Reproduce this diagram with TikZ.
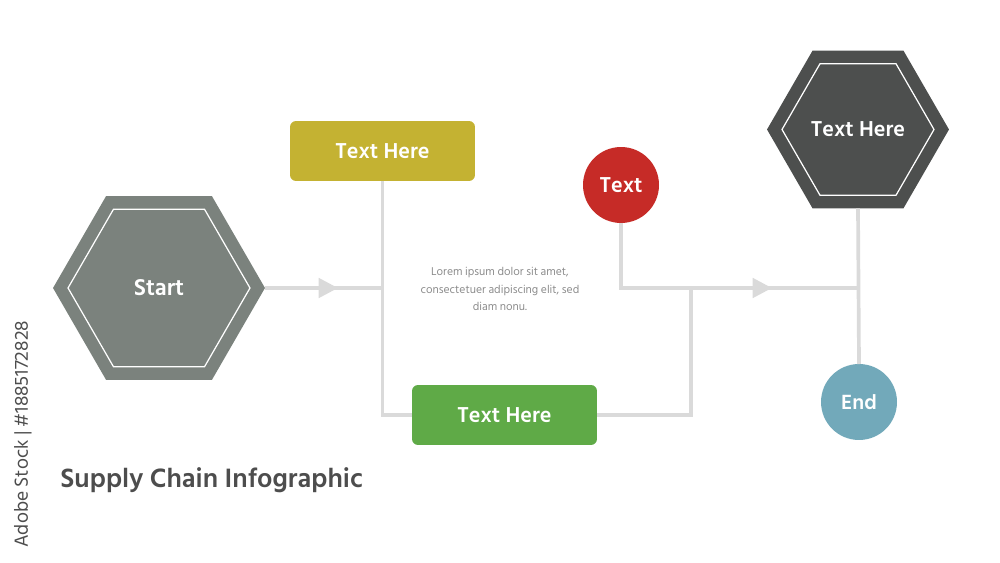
\documentclass[tikz,border=0pt]{standalone}
\usepackage{fontspec}
\setmainfont{Hind Siliguri}
\usetikzlibrary{shapes.geometric,arrows.meta}
\definecolor{startc}{HTML}{7B827D}
\definecolor{darkc}{HTML}{4D4F4E}
\definecolor{yellowc}{HTML}{C4B232}
\definecolor{greenc}{HTML}{5FAA47}
\definecolor{redc}{HTML}{C62B27}
\definecolor{endc}{HTML}{72A9BA}
\definecolor{linec}{HTML}{DADADA}
\definecolor{loremc}{HTML}{8C8C8C}
\definecolor{titlec}{HTML}{4D4D4D}
\tikzset{
  hexa/.style={regular polygon, regular polygon sides=6, inner sep=0pt, outer sep=0pt},
  hexin/.style={regular polygon, regular polygon sides=6, inner sep=0pt, outer sep=0pt, draw=white, line width=0.7pt},
  lbl/.style={text=white, font=\bfseries\fontsize{12.6}{14}\selectfont},
  boxn/.style={lbl, rounded corners=3.4pt, minimum width=3.7cm, minimum height=1.2cm, inner sep=0pt, outer sep=0pt},
  circn/.style={lbl, circle, minimum size=1.52cm, inner sep=0pt, outer sep=0pt},
  conn/.style={draw=linec, line width=2.1pt},
  arr/.style={conn, -{Triangle[length=11pt,width=11pt]}}
}
\begin{document}
\begin{tikzpicture}[x=0.02cm,y=-0.02cm]
\useasboundingbox (0,0) rectangle (1000,563);
\coordinate (a1) at (338,288);
\coordinate (j1) at (382,288);
\coordinate (j2) at (621,288);
\coordinate (a2) at (772,288);
\coordinate (j3) at (858,288);
\coordinate (j4) at (691,288);
\coordinate (j5) at (691,415);
% start hexagon
\node[hexa, fill=startc, minimum size=4.24cm] (start) at (159,288) {};
\node[hexin, minimum size=3.64cm] (startin) at (159,288) {};
\node[lbl, font=\bfseries\fontsize{13.4}{15}\selectfont] (startt) at (159,288) {Start};
% dark hexagon
\node[hexa, fill=darkc, minimum size=3.64cm] (dark) at (858,129.5) {};
\node[hexin, minimum size=3.04cm] (darkin) at (858,129.5) {};
\node[lbl] (darkt) at (858,129.5) {Text Here};
% boxes
\node[boxn, fill=yellowc] (yel) at (382.5,151) {Text Here};
\node[boxn, fill=greenc] (grn) at (504.5,415) {Text Here};
% circles
\node[circn, fill=redc] (red) at (621,185) {Text};
\node[circn, fill=endc, font=\bfseries\fontsize{12}{14}\selectfont] (endn) at (859,402) {End};
% connectors
\draw[conn] (yel.south) |- (grn.west);
\draw[conn] (j4) -- (j5) -- (grn.east);
\draw[conn] (dark.south) -- (endn.north);
\draw[conn] (red.south) -- (j2) -- (j3);
\draw[conn] (start.east) -- (j1);
\path[arr] (start.east) -- (a1);
\path[arr] (j2) -- (a2);
% lorem
\node[text=loremc, align=center, font=\fontsize{6.6}{9.9}\selectfont] (lorem) at (500,289) {Lorem ipsum dolor sit amet,\\consectetuer adipiscing elit, sed\\diam nonu.};
% title
\node[anchor=base west, inner sep=0pt, text=titlec, font=\bfseries\fontsize{15.5}{18}\selectfont] (title) at (60,487) {Supply Chain Infographic};
% side text
\node[anchor=base west, inner sep=0pt, rotate=90, text=titlec, font=\fontsize{11.1}{12}\selectfont] (wm) at (28,548) {Adobe Stock | \#1885172828};
\end{tikzpicture}
\end{document}
